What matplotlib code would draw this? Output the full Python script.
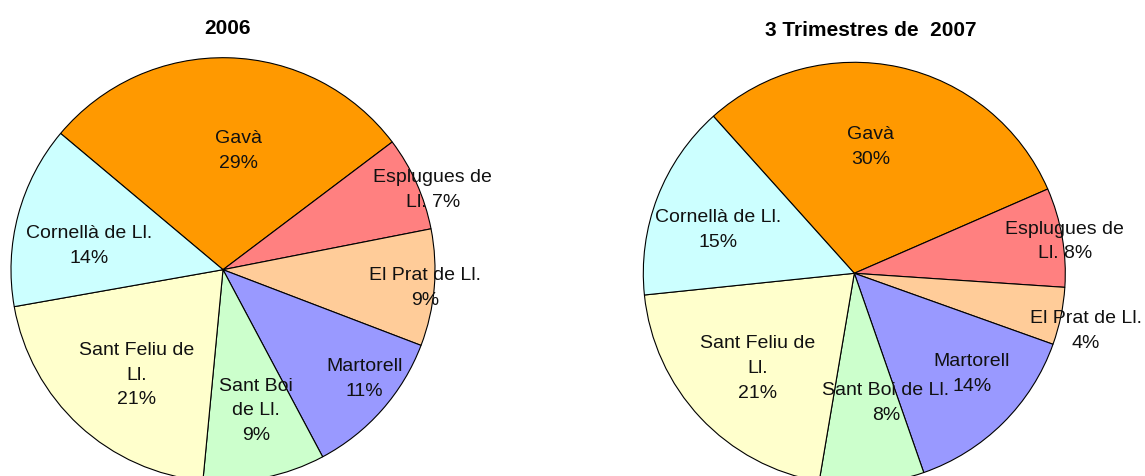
import matplotlib.pyplot as plt
import numpy as np

# Data
names_2006 = ['Gavà', 'Esplugues de\nLl.', 'El Prat de Ll.', 'Martorell',
              'Sant Boi\nde Ll.', 'Sant Feliu de\nLl.', 'Cornellà de Ll.']
share_2006 = [28.6, 7.2, 8.9, 11.4, 9.3, 20.7, 13.9]

names_2007 = ['Gavà', 'Esplugues de\nLl.', 'El Prat de Ll.', 'Martorell',
              'Sant Boi de Ll.', 'Sant Feliu de\nLl.', 'Cornellà de Ll.']
share_2007 = [30.1, 7.6, 4.4, 14.2, 8.0, 20.7, 15.0]

# the percentage goes on the same line for these
same_line = ['Esplugues de\nLl.']

colors = ['#FF9900', '#FF8080', '#FFCC99', '#9999FF', '#CCFFCC', '#FFFFCC', '#CCFFFF']

W, H = 1145, 477
fig = plt.figure(figsize=(W / 100, H / 100), dpi=100)
plt.rcParams['font.family'] = ['Liberation Sans', 'DejaVu Sans']


def draw_pie(cx, cy, r, values, names, start, label_pos, title, tx, ty):
    # axes placed in pixel terms, pie radius 1 fills the box
    ax = fig.add_axes([(cx - r) / W, 1 - (cy + r) / H, 2 * r / W, 2 * r / H])
    wedges, _ = ax.pie(values, colors=colors, startangle=start, counterclock=False,
                       wedgeprops=dict(edgecolor='black', linewidth=0.8))
    ax.set_xlim(-1, 1)
    ax.set_ylim(-1, 1)
    ax.axis('off')
    for w, name, v, (dist, dang) in zip(wedges, names, values, label_pos):
        mid = np.deg2rad((w.theta1 + w.theta2) / 2 + dang)
        sep = ' ' if name in same_line else '\n'
        ax.text(dist * np.cos(mid), dist * np.sin(mid), f'{name}{sep}{v:.0f}%',
                ha='center', va='center', fontsize=14, linespacing=1.6,
                color='#111111', clip_on=False)
    fig.text(tx / W, 1 - ty / H, title, ha='center', va='center',
             fontsize=15, fontweight='bold')


pos_2006 = [(0.57, -6), (1.06, -3), (0.955, 0), (0.84, 4), (0.68, 2), (0.64, 3), (0.64, 4.6)]
pos_2007 = [(0.61, 5), (1.01, -1), (1.13, -2), (0.73, 5), (0.63, 9), (0.64, 1), (0.68, 3)]

draw_pie(223, 270.7, 212, share_2006, names_2006, 140, pos_2006, '2006', 227, 29)
draw_pie(854.3, 274.3, 211, share_2007, names_2007, 131.9, pos_2007,
         '3 Trimestres de  2007', 871, 31)

plt.savefig('out.png', dpi=100)
